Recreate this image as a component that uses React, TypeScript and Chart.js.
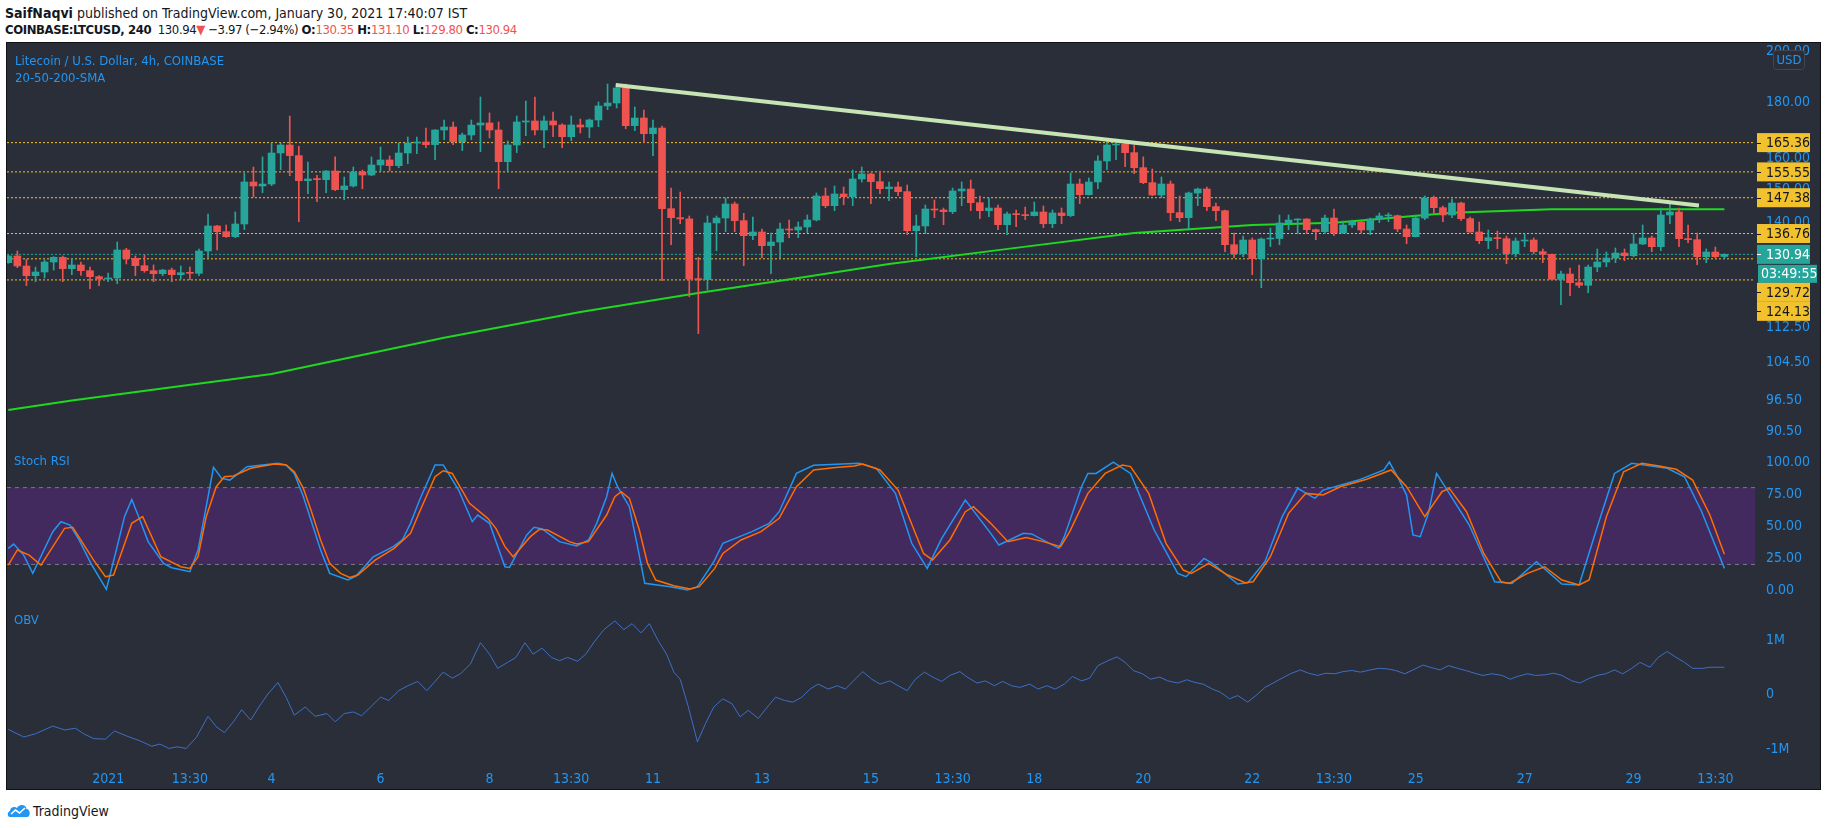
import { useEffect, useRef } from 'react';
import { Chart, registerables } from 'chart.js';

Chart.register(...registerables);

const FONT = "'Liberation Sans Narrow', 'DejaVu Sans Condensed', 'Arial Narrow', sans-serif";
const BLUE = '#2196f3';
const UP = '#26a69a';
const DOWN = '#ef5350';
const YELLOW = '#f2c12e';
const PANEL = '#2a2e39';

// ---- candles (4h LTCUSD, index 0 = first visible candle) ----
const opens = [128.68,130.49,127.79,125.24,126.20,128.86,130.12,127.08,128.06,126.55,
124.98,124.37,124.63,132.13,129.85,127.88,126.55,125.76,126.72,125.50,
126.02,125.85,131.86,138.93,137.29,135.86,139.51,152.30,151.03,151.66,
161.81,164.54,160.93,152.73,153.26,153.05,155.84,149.88,151.03,155.51,
154.54,157.81,159.47,157.59,161.81,165.22,165.56,164.65,169.78,170.83,
165.70,168.01,171.53,172.28,169.78,158.91,164.54,172.64,173.00,169.78,
173.00,171.56,167.43,171.56,170.83,173.36,178.51,179.62,185.35,171.32,
174.08,168.47,170.48,144.05,141.37,141.00,124.37,124.20,139.81,141.26,
145.46,140.49,136.14,137.20,133.33,134.36,138.06,137.77,138.64,140.68,
147.91,144.96,148.53,147.71,153.26,154.86,152.41,150.20,150.72,149.26,
137.58,138.93,143.95,143.65,143.15,149.47,150.09,145.86,143.45,144.25,
139.30,142.46,142.26,141.97,143.05,139.59,142.76,141.97,151.66,148.32,
152.30,159.13,164.54,164.88,161.93,156.93,152.09,148.22,151.66,142.85,
141.37,148.84,150.09,144.66,143.45,133.61,131.12,134.92,129.76,135.20,
135.35,139.81,140.68,140.97,137.87,137.29,141.26,136.90,139.22,140.10,
137.77,140.97,141.87,141.97,138.06,135.86,141.26,147.30,144.35,142.16,
145.76,141.07,137.20,134.74,135.58,135.30,131.12,134.64,134.92,131.67,
130.94,124.28,125.67,123.42,122.74,127.52,128.86,129.94,131.30,130.58,
133.80,135.49,133.06,142.16,143.05,135.30,135.02,130.31,131.58,130.35];

const highs = [130.76,131.86,129.58,127.52,129.40,130.31,130.49,129.76,128.86,127.52,
125.24,125.94,134.36,132.60,130.49,130.76,128.06,126.90,127.25,127.79,
127.52,132.41,142.46,139.12,139.22,143.05,155.19,157.15,160.49,165.22,
165.22,174.80,164.09,158.80,154.43,155.95,160.49,153.90,157.15,156.16,
160.49,163.86,160.82,165.22,167.31,167.31,170.48,169.89,173.36,172.64,
168.70,173.36,181.89,175.91,172.64,165.93,174.80,180.38,181.89,174.80,
176.28,171.99,174.80,173.72,173.72,180.00,186.89,186.89,186.89,178.13,
177.02,173.36,171.20,150.40,149.14,141.87,130.12,141.87,141.87,147.30,
146.06,142.66,141.57,138.06,136.90,139.81,140.68,140.10,142.16,148.84,
150.40,151.03,150.72,156.16,157.15,155.19,155.84,152.30,152.30,151.34,
142.16,145.16,146.68,144.25,150.40,152.30,152.94,147.91,147.30,145.16,
143.05,143.65,144.55,146.06,144.86,143.65,144.25,155.19,153.26,153.58,
160.82,165.93,166.62,165.93,164.54,160.49,156.48,153.90,152.62,147.91,
149.14,150.40,150.72,145.76,143.60,136.90,136.05,135.49,135.49,138.35,
142.16,142.16,141.07,141.07,138.06,142.16,143.95,140.39,140.68,140.20,
141.26,142.76,142.76,142.16,139.22,142.16,147.91,147.91,144.86,146.99,
146.06,141.57,140.10,137.77,137.48,136.05,135.49,136.62,135.49,132.41,
131.03,126.46,127.25,128.06,128.06,132.41,131.58,132.69,132.41,136.62,
139.22,136.05,144.25,145.46,144.25,139.22,136.90,132.41,132.97,131.10];

const lows = [128.51,127.34,122.65,123.68,124.63,126.72,123.68,125.50,125.32,121.88,
122.65,123.68,123.17,128.33,125.24,126.11,123.68,125.24,123.68,124.37,
124.20,125.24,130.03,132.13,135.67,135.58,137.87,147.61,148.95,151.13,
156.27,154.33,140.19,148.63,146.17,148.95,149.57,146.79,150.70,150.20,
154.30,155.84,155.84,156.93,158.25,161.59,163.63,159.57,166.39,164.65,
162.61,166.39,162.27,166.97,150.20,155.62,161.93,167.78,168.01,163.63,
167.43,163.63,166.04,168.70,167.08,170.96,177.14,177.76,170.24,169.54,
165.33,160.93,123.94,133.61,139.59,119.86,110.96,121.54,131.93,137.29,
137.29,127.88,135.02,130.03,125.76,130.03,135.58,135.58,137.00,140.39,
144.35,143.45,145.26,144.96,152.30,145.56,148.63,146.48,148.02,136.43,
130.31,136.72,141.37,139.30,142.56,144.96,143.45,141.07,141.67,137.87,
136.43,138.74,140.78,141.87,138.44,138.44,139.59,141.67,145.56,148.22,
150.20,156.27,159.57,157.26,154.98,151.77,148.02,147.40,140.49,140.19,
138.15,144.96,143.45,140.49,131.67,130.03,130.31,125.50,122.14,133.06,
133.61,137.87,136.72,136.72,135.02,136.72,136.14,136.72,138.44,136.90,
136.43,139.91,140.19,137.29,133.89,135.77,140.78,142.76,140.19,141.37,
140.49,137.10,133.89,132.50,132.50,128.42,130.31,133.06,131.12,128.68,
124.20,117.88,120.10,122.14,120.85,126.28,127.61,128.68,129.22,130.31,
133.61,131.67,131.93,139.59,133.06,134.17,128.15,128.68,130.03,129.80];

const closes = [130.49,127.79,125.24,126.20,128.86,130.12,127.08,128.06,126.55,124.98,
124.37,124.63,132.13,129.85,127.88,126.55,125.76,126.72,125.50,126.02,
125.85,131.86,138.93,137.29,135.86,139.51,152.30,151.03,151.66,161.81,
164.54,160.93,152.73,153.26,153.05,155.84,149.88,151.03,155.51,154.54,
157.81,159.47,157.59,161.81,165.22,165.56,164.65,169.78,170.83,165.70,
168.01,171.53,172.28,169.78,158.91,164.54,172.64,173.00,169.78,173.00,
171.56,167.43,171.56,170.83,173.36,178.51,179.62,185.35,171.32,174.08,
168.47,170.48,144.05,141.37,141.00,124.37,124.20,139.81,141.26,145.46,
140.49,136.14,137.20,133.33,134.36,138.06,137.77,138.64,140.68,147.91,
144.96,148.53,147.71,153.26,154.86,152.41,150.20,150.72,149.26,137.58,
138.93,143.95,143.65,143.15,149.47,150.09,145.86,143.45,144.25,139.30,
142.46,142.26,141.97,143.05,139.59,142.76,141.97,151.66,148.32,152.30,
159.13,164.54,164.88,161.93,156.93,152.09,148.22,151.66,142.85,141.37,
148.84,150.09,144.66,143.45,133.61,131.12,134.92,129.76,135.20,135.35,
139.81,140.68,140.97,137.87,137.29,141.26,136.90,139.22,140.10,137.77,
140.97,141.87,141.97,138.06,135.86,141.26,147.30,144.35,142.16,145.76,
141.07,137.20,134.74,135.58,135.30,131.12,134.64,134.92,131.67,130.94,
124.28,125.67,123.42,122.74,127.52,128.86,129.94,131.30,130.58,133.80,
135.49,133.06,142.16,143.05,135.30,135.02,130.31,131.58,130.31,130.94];

// 200 SMA: [candle index, price]
const smaPoints = [[0,94.6],[7,96.5],[18,99.2],[29,102.0],[48,110.0],[63,116.1],[76,120.8],[87,124.6],
[97,128.3],[109,132.1],[124,136.9],[137,139.2],[146,139.9],[159,142.8],[170,143.9],[189,143.9]];

// descending trend line
const trendPoints = [[66.9,186.5],[186.2,145.0]];

// horizontal levels
const levels = [165.36, 155.55, 147.38, 136.76, 129.72, 124.13];
const lastPrice = 130.94;
const countdown = '03:49:55';
const priceTicks = [200, 180, 160, 150, 140, 112.5, 104.5, 96.5, 90.5];

// Stoch RSI
const stochK = [[0,32.6],[0.6,35.9],[1.7,27.3],[2.7,13.0],[4.9,45.6],[5.8,53.4],[6.8,50.8],[7.8,39.1],[9.1,20.8],[10.8,0.5],
[11.9,31.3],[12.8,57.3],[13.6,70.8],[14.5,54.7],[15.4,37.8],[17.1,20.8],[18.0,17.4],[20.0,14.3],[20.9,31.3],[21.8,65.1],
[22.6,95.8],[23.5,87.2],[24.4,85.9],[26.3,96.4],[29.7,99.0],[30.6,97.7],[31.5,91.1],[32.5,72.9],[34.4,31.3],[35.4,13.0],
[37.4,7.8],[38.3,10.9],[40.2,26.0],[42.4,33.9],[43.4,39.1],[44.3,52.1],[45.3,70.3],[47.0,97.7],[47.9,97.7],[49.6,78.1],
[51.1,53.4],[51.7,58.6],[53.0,52.1],[54.7,18.2],[55.2,17.7],[57.1,43.0],[57.9,49.0],[58.8,47.7],[60.7,37.8],[62.6,34.4],
[63.9,39.1],[64.8,52.1],[65.9,72.9],[66.5,91.1],[67.1,80.7],[68.4,65.1],[69.3,33.9],[70.1,5.2],[72.9,2.6],[74.8,0],
[75.9,2.6],[77.7,22.1],[78.7,36.5],[81.9,45.6],[83.8,52.1],[84.9,61.2],[86.8,91.1],[88.7,97.4],[93.7,99.0],[95.6,95.1],
[97.7,75.5],[99.5,36.5],[101.2,16.9],[102.8,40.4],[105.4,70.3],[108.2,44.3],[109.1,35.2],[111.8,44.3],[112.7,43.8],[115.7,32.6],
[116.3,41.7],[118.2,80.7],[118.9,91.1],[119.8,91.1],[121.7,100],[123.6,91.1],[126.2,46.9],[128.8,13.0],[129.7,10.4],[131.7,24.7],
[132.6,20.8],[135.4,4.7],[136.5,5.7],[138.4,22.1],[140.3,57.3],[142.0,79.4],[143.9,71.6],[144.8,78.1],[148.7,85.9],[151.5,93.8],
[152.1,100],[153.2,85.9],[154.0,74.2],[154.7,43.0],[155.5,41.7],[156.4,59.9],[157.3,91.1],[158.0,83.3],[160.9,50.8],[163.7,6.5],
[165.6,5.2],[168.3,22.1],[171.1,4.7],[173.0,3.9],[175.0,49.5],[176.9,91.1],[178.8,99.0],[182.7,95.1],[184.6,88.5],[186.5,61.2],
[189,16.9]];

const stochD = [[0,19.5],[1.0,31.3],[2.3,27.3],[3.6,19.5],[6.2,48.2],[7.1,49.0],[9.4,23.4],[10.7,10.4],[11.6,11.7],[13.6,52.1],
[14.8,57.3],[16.8,26.0],[19.0,18.2],[20.0,16.9],[20.9,26.0],[21.8,57.3],[22.9,80.7],[23.8,88.5],[24.8,89.1],[26.7,95.1],
[29.3,98.4],[30.6,97.7],[31.5,92.4],[32.5,79.4],[33.4,61.2],[34.4,39.1],[35.4,20.8],[36.6,13.0],[37.6,9.9],[38.5,11.7],
[40.4,23.4],[42.5,32.6],[44.3,44.3],[45.3,61.2],[47.0,88.5],[47.9,93.2],[48.9,91.1],[50.8,67.7],[52.8,56.0],[53.7,48.2],
[54.7,33.9],[55.6,26.0],[57.5,41.7],[58.5,47.4],[59.4,46.9],[61.8,37.8],[62.6,35.9],[63.9,37.8],[65.9,58.6],[66.8,72.9],
[67.5,76.8],[68.4,71.6],[69.5,46.9],[70.4,20.8],[71.3,7.8],[73.3,3.4],[75.1,0.8],[76.1,2.6],[77.8,16.9],[78.7,28.6],
[80.7,39.1],[82.9,45.6],[84.9,56.0],[86.8,80.7],[88.7,93.8],[91.1,95.8],[93.2,96.9],[94.1,98.4],[96.0,93.8],[98.0,78.1],
[99.9,44.3],[100.8,28.6],[101.8,23.4],[103.7,39.1],[105.4,61.2],[106.3,65.1],[108.2,52.1],[110.1,37.8],[112.1,41.1],[114.0,37.8],
[115.9,33.9],[116.9,45.6],[118.9,75.5],[120.8,91.1],[122.7,97.7],[123.6,96.4],[125.6,75.5],[127.5,36.5],[129.4,15.6],[130.3,13.0],
[132.2,20.8],[134.3,11.7],[136.2,5.7],[137.1,6.5],[139.0,26.0],[141.0,59.9],[142.9,75.5],[144.8,74.2],[146.7,80.7],[149.6,86.5],
[152.3,93.8],[154.0,80.7],[156.0,57.3],[157.9,76.8],[158.7,79.4],[160.6,61.2],[162.5,28.6],[164.4,6.5],[165.3,5.2],[167.3,13.0],
[169.2,18.2],[171.1,7.8],[173.0,3.9],[174.1,7.8],[176.0,57.3],[177.9,92.4],[179.9,99.0],[181.8,96.9],[183.7,94.3],[185.5,85.9],
[187.4,58.6],[189,28]];
const stochTicks = [0, 25, 50, 75, 100];

// OBV in millions
const obvPoints = [[0,-0.64],[1.7,-0.78],[3.0,-0.72],[4.9,-0.58],[6.2,-0.65],[7.4,-0.62],[8.3,-0.72],[9.4,-0.81],[10.7,-0.82],[11.7,-0.67],
[13.0,-0.76],[14.5,-0.85],[15.8,-0.95],[16.7,-0.91],[17.7,-0.99],[18.6,-0.96],[19.6,-0.99],[20.7,-0.79],[22.0,-0.40],[22.9,-0.59],
[23.8,-0.70],[24.8,-0.50],[25.7,-0.28],[26.7,-0.47],[27.6,-0.23],[28.6,0.01],[29.7,0.22],[30.6,-0.05],[31.5,-0.38],[32.7,-0.23],
[33.8,-0.40],[35.1,-0.35],[36.0,-0.50],[37.0,-0.35],[38.0,-0.32],[38.9,-0.39],[39.9,-0.23],[41.0,-0.05],[41.9,-0.11],[43.0,0.07],
[44.0,0.16],[45.1,0.24],[46.1,0.07],[46.9,0.22],[47.9,0.41],[48.9,0.30],[49.8,0.38],[50.9,0.56],[52.0,0.95],[53.0,0.74],
[53.9,0.48],[55.0,0.59],[55.9,0.68],[56.9,0.95],[57.8,0.74],[58.8,0.85],[59.8,0.68],[60.7,0.62],[61.6,0.68],[62.7,0.61],
[63.6,0.74],[64.6,0.98],[65.6,1.19],[66.8,1.35],[67.8,1.19],[68.7,1.30],[69.7,1.13],[70.6,1.30],[71.6,0.98],[72.5,0.74],
[73.3,0.41],[74.0,0.28],[74.9,-0.23],[75.9,-0.87],[76.8,-0.53],[77.7,-0.23],[78.7,-0.08],[79.7,-0.17],[80.6,-0.41],[81.5,-0.29],
[82.6,-0.44],[83.6,-0.23],[84.5,-0.05],[85.5,-0.11],[86.4,-0.14],[87.4,-0.05],[88.3,0.10],[89.2,0.19],[90.3,0.10],[91.3,0.16],
[92.2,0.10],[93.2,0.27],[94.1,0.42],[95.1,0.28],[96.0,0.19],[97.1,0.25],[98.0,0.16],[99.0,0.07],[99.9,0.28],[100.9,0.41],
[101.8,0.32],[102.8,0.24],[103.7,0.35],[104.8,0.42],[105.6,0.32],[106.7,0.21],[107.6,0.25],[108.6,0.16],[109.5,0.24],[110.5,0.16],
[111.4,0.13],[112.5,0.19],[113.4,0.10],[114.4,0.16],[115.3,0.10],[116.3,0.19],[117.2,0.33],[118.2,0.25],[119.1,0.30],[120.0,0.53],
[121.1,0.62],[122.1,0.69],[123.0,0.59],[123.9,0.44],[124.9,0.38],[125.8,0.28],[126.8,0.32],[127.7,0.25],[128.8,0.21],[129.8,0.27],
[130.7,0.22],[131.6,0.19],[132.6,0.10],[133.5,0.04],[134.5,-0.08],[135.4,-0.02],[136.5,-0.14],[137.4,-0.02],[138.4,0.13],[139.3,0.21],
[140.3,0.30],[141.2,0.38],[142.3,0.45],[143.2,0.39],[144.2,0.35],[145.1,0.39],[146.1,0.38],[147.0,0.42],[148.0,0.44],[148.9,0.41],
[150.0,0.45],[150.9,0.48],[151.9,0.47],[152.8,0.44],[153.8,0.38],[154.7,0.45],[155.8,0.54],[156.6,0.50],[157.7,0.45],[158.6,0.53],
[159.6,0.48],[160.5,0.44],[161.5,0.39],[162.4,0.35],[163.4,0.38],[164.5,0.35],[165.4,0.28],[166.2,0.33],[167.3,0.38],[168.2,0.35],
[169.2,0.36],[170.2,0.39],[171.1,0.35],[172.2,0.25],[173.1,0.21],[173.9,0.28],[175.0,0.35],[175.9,0.38],[176.9,0.45],[177.8,0.38],
[178.8,0.48],[179.7,0.59],[180.8,0.50],[181.7,0.68],[182.7,0.79],[183.6,0.69],[184.6,0.59],[185.5,0.48],[186.6,0.48],[187.4,0.50],
[188.5,0.50],[189,0.50]];
const obvTicks = [-1, 0, 1];
const obvTickLabels = ['-1M', '0', '1M'];

// time axis
const xTickIdx = [11, 20, 29, 41, 53, 62, 71, 83, 95, 104, 113, 125, 137, 146, 155, 167, 179, 188];
const xTickLabels = ['2021', '13:30', '4', '6', '8', '13:30', '11', '13', '15', '13:30', '18', '20', '22', '13:30', '25', '27', '29', '13:30'];

const X_MIN = -0.14;
const X_MAX = 192.37;
const AXIS_W = 64;
const PAD = { left: 7, right: 9, top: 0, bottom: 0 };

const fixY = (s: any) => {
  s.width = AXIS_W;
  s.paddingTop = 0; s.paddingBottom = 0; s.paddingLeft = 0; s.paddingRight = 0;
};

const yAxisBase = (ticks: number[], fmt: (v: number) => string) => ({
  position: 'right',
  grid: { display: false, drawTicks: false },
  border: { display: false },
  ticks: { color: BLUE, font: { family: FONT, size: 14 }, padding: 11, autoSkip: false, callback: (v: any) => fmt(Number(v)) },
  afterBuildTicks: (s: any) => { s.ticks = ticks.map((v) => ({ value: v })); },
  afterFit: fixY,
});

const hidX = { type: 'linear', min: X_MIN, max: X_MAX, display: false, offset: false };

const hline = (v: number, color: string, dash: number[], order: number) => ({
  type: 'line',
  data: [{ x: X_MIN, y: v }, { x: X_MAX, y: v }],
  borderColor: color, borderWidth: 1, borderDash: dash, pointRadius: 0, order,
});

const labelPlugin = {
  id: 'priceLabels',
  afterDraw(chart: any) {
    const ctx = chart.ctx;
    const ys = chart.scales.y;
    const left = chart.chartArea.right + 2;
    const h = 19;
    const items = levels.map((v) => ({ v, text: v.toFixed(2), bg: YELLOW, fg: '#131722', cd: false }));
    items.push({ v: lastPrice, text: lastPrice.toFixed(2), bg: UP, fg: '#ffffff', cd: true });
    items.sort((a, b) => b.v - a.v);
    ctx.save();
    ctx.font = `14px ${FONT}`;
    ctx.textBaseline = 'middle';
    ctx.textAlign = 'left';
    let prevBottom = -1e9;
    for (const it of items) {
      const cy = Math.max(ys.getPixelForValue(it.v), prevBottom + h / 2);
      ctx.fillStyle = it.bg;
      ctx.fillRect(left, cy - h / 2, 53, h);
      ctx.fillStyle = it.fg;
      ctx.fillRect(left, Math.round(cy), 4, 1);
      ctx.fillText(it.text, left + 9, cy + 1);
      prevBottom = cy + h / 2;
      if (it.cd) {
        const cy2 = cy + h;
        ctx.fillStyle = UP;
        ctx.fillRect(left + 1, cy2 - h / 2 + 1, 59, h - 1);
        ctx.fillStyle = '#ffffff';
        ctx.fillText(countdown, left + 4, cy2 + 1);
        prevBottom = cy2 + h / 2;
      }
    }
    // USD box
    ctx.beginPath();
    ctx.fillStyle = PANEL;
    ctx.strokeStyle = '#434651';
    ctx.lineWidth = 1;
    (ctx as any).roundRect(1773.5, 7.5, 31, 19, 3);
    ctx.fill();
    ctx.stroke();
    ctx.fillStyle = BLUE;
    ctx.font = `13px ${FONT}`;
    ctx.textAlign = 'center';
    ctx.fillText('USD', 1789, 17.5);
    ctx.restore();
  },
};

export default function App() {
  const pRef = useRef<HTMLCanvasElement>(null);
  const sRef = useRef<HTMLCanvasElement>(null);
  const oRef = useRef<HTMLCanvasElement>(null);

  useEffect(() => {
    Chart.defaults.font.family = FONT;
    const colors = closes.map((c, i) => (c >= opens[i] ? UP : DOWN));

    const price = new Chart(pRef.current as HTMLCanvasElement, {
      type: 'bar',
      data: {
        datasets: [
          ...levels.map((v) => hline(v, YELLOW, [2, 2], 20)),
          hline(lastPrice, UP, [2, 2], 19),
          {
            type: 'line',
            data: smaPoints.map(([x, y]) => ({ x, y })),
            borderColor: '#1fd81f', borderWidth: 2, pointRadius: 0, order: 10,
          },
          {
            type: 'bar',
            data: lows.map((l, i) => ({ x: i, y: [l, highs[i]] })),
            backgroundColor: colors, barThickness: 1, grouped: false, order: 5,
          },
          {
            type: 'bar',
            data: opens.map((o, i) => ({ x: i, y: [o, closes[i]] })),
            backgroundColor: colors, barThickness: 7, minBarLength: 1, grouped: false, order: 4,
          },
          {
            type: 'line',
            data: trendPoints.map(([x, y]) => ({ x, y })),
            borderColor: '#c6e4b4', borderWidth: 4, pointRadius: 0, order: 1,
          },
        ] as any,
      },
      options: {
        animation: false, responsive: false, events: [],
        layout: { padding: PAD },
        plugins: { legend: { display: false }, tooltip: { enabled: false } },
        scales: {
          x: hidX as any,
          y: { type: 'logarithmic', min: 87.93, max: 203.6, ...yAxisBase(priceTicks, (v) => v.toFixed(2)) } as any,
        },
      },
      plugins: [labelPlugin],
    });

    const stoch = new Chart(sRef.current as HTMLCanvasElement, {
      type: 'line',
      data: {
        datasets: [
          { ...hline(80, '#787b86', [4, 4], 10), fill: '+1', backgroundColor: '#42295e' },
          { ...hline(20, '#787b86', [4, 4], 9), fill: false },
          { data: stochK.map(([x, y]) => ({ x, y })), borderColor: BLUE, borderWidth: 1.5, pointRadius: 0, order: 2 },
          { data: stochD.map(([x, y]) => ({ x, y })), borderColor: '#ff6d00', borderWidth: 1.5, pointRadius: 0, order: 1 },
        ] as any,
      },
      options: {
        animation: false, responsive: false, events: [],
        layout: { padding: PAD },
        plugins: { legend: { display: false }, tooltip: { enabled: false } },
        scales: {
          x: hidX as any,
          y: { type: 'linear', min: -11.7, max: 113.3, ...yAxisBase(stochTicks, (v) => v.toFixed(2)) } as any,
        },
      },
    });

    const obv = new Chart(oRef.current as HTMLCanvasElement, {
      type: 'line',
      data: {
        datasets: [
          { data: obvPoints.map(([x, y]) => ({ x, y })), borderColor: '#3e6fc6', borderWidth: 1, pointRadius: 0 },
        ] as any,
      },
      options: {
        animation: false, responsive: false, events: [],
        layout: { padding: PAD },
        plugins: { legend: { display: false }, tooltip: { enabled: false } },
        scales: {
          x: {
            type: 'linear', min: X_MIN, max: X_MAX, offset: false,
            grid: { display: false, drawTicks: false },
            border: { display: false },
            ticks: {
              color: BLUE, font: { family: FONT, size: 14 }, padding: 3, autoSkip: false, maxRotation: 0,
              callback: (_v: any, i: number) => xTickLabels[i],
            },
            afterBuildTicks: (s: any) => { s.ticks = xTickIdx.map((v) => ({ value: v })); },
            afterFit: (s: any) => { s.height = 22; s.paddingLeft = 0; s.paddingRight = 0; },
          } as any,
          y: { type: 'linear', min: -1.349, max: 1.642, ...yAxisBase(obvTicks, (v) => obvTickLabels[obvTicks.indexOf(Math.round(v))] ?? '') } as any,
        },
      },
    });

    return () => { price.destroy(); stoch.destroy(); obv.destroy(); };
  }, []);

  const txt: any = { position: 'absolute', fontFamily: FONT, fontSize: 14, lineHeight: '16px', whiteSpace: 'nowrap' };
  const red = { color: DOWN };

  return (
    <div style={{ position: 'absolute', left: 0, top: 0, width: 1828, height: 828, background: '#ffffff', overflow: 'hidden' }}>
      <div style={{ ...txt, left: 5, top: 5, color: '#131722' }}>
        <b>SaifNaqvi</b> published on TradingView.com, January 30, 2021 17:40:07 IST
      </div>
      <div style={{ ...txt, left: 5, top: 22, color: '#131722', fontSize: 13, letterSpacing: '-0.4px' }}>
        <b>COINBASE:LTCUSD, 240</b>&nbsp; 130.94<span style={red}>▼</span> −3.97 (−2.94%) <b>O:</b><span style={red}>130.35</span> <b>H:</b><span style={red}>131.10</span> <b>L:</b><span style={red}>129.80</span> <b>C:</b><span style={red}>130.94</span>
      </div>
      <div style={{ position: 'absolute', left: 6, top: 42, width: 1815, height: 748, background: PANEL, border: '1px solid #0f1115', boxSizing: 'border-box' }} />
      <canvas ref={pRef} width={1828} height={402} style={{ position: 'absolute', left: 0, top: 43 }} />
      <canvas ref={sRef} width={1828} height={160} style={{ position: 'absolute', left: 0, top: 445 }} />
      <canvas ref={oRef} width={1828} height={185} style={{ position: 'absolute', left: 0, top: 605 }} />
      <div style={{ ...txt, left: 15, top: 53, color: BLUE, fontSize: 13 }}>Litecoin / U.S. Dollar, 4h, COINBASE</div>
      <div style={{ ...txt, left: 15, top: 70, color: BLUE, fontSize: 13 }}>20-50-200-SMA</div>
      <div style={{ ...txt, left: 14, top: 453, color: BLUE, fontSize: 13 }}>Stoch RSI</div>
      <div style={{ ...txt, left: 14, top: 612, color: BLUE, fontSize: 13 }}>OBV</div>
      <svg width="24" height="15" style={{ position: 'absolute', left: 7, top: 803 }}>
        <path d="M3 14 C0 14 0 9 3 8 C3 4 8 3 10 5 C12 1 19 1 19.5 6 C23.5 6 24 14 20 14 Z" fill={BLUE} />
        <polyline points="4,11 8.5,7 12.5,10 18,5" stroke="#ffffff" strokeWidth="1.6" fill="none" />
      </svg>
      <div style={{ ...txt, left: 33, top: 803, color: '#131722' }}>TradingView</div>
    </div>
  );
}
